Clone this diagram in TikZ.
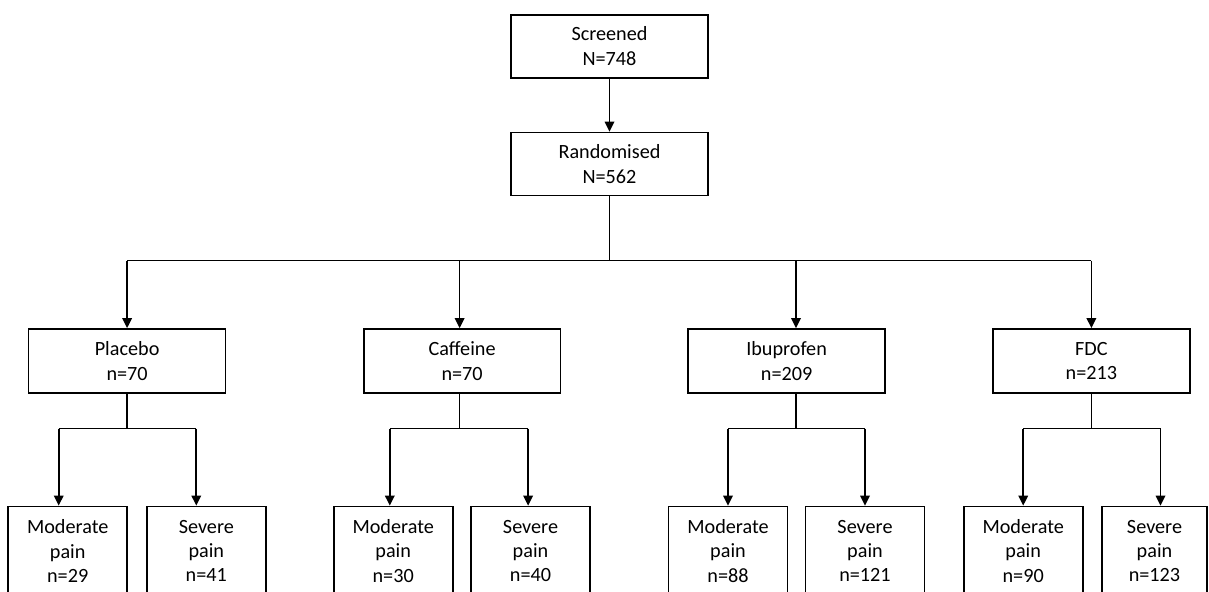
\documentclass[tikz,border=0pt]{standalone}
\usepackage{fontspec}
\setmainfont{Carlito}
\usepackage{tikz}
\usetikzlibrary{arrows.meta, calc}

\begin{document}
\begin{tikzpicture}[
    x=0.02cm, y=-0.02cm,
    >={Triangle[length=0.2cm, width=0.19cm]},
    topbox/.style={rectangle, draw=black, line width=1pt, fill=white,
                minimum width=3.94cm, minimum height=1.26cm, inner sep=0pt,
                font=\fontsize{11.5}{14.2}\selectfont, align=center, text=black},
    armbox/.style={topbox, minimum height=1.28cm},
    painbox/.style={topbox, minimum width=2.38cm, minimum height=1.78cm,
                font=\fontsize{11.5}{13.9}\selectfont},
    wire/.style={line width=1pt, black},
    flow/.style={wire, ->},
]
\clip (0,0) rectangle (1209,591);
\node[topbox] (scr)  at (609.5, 46.5) {Screened\\N=748};
\node[topbox] (rand) at (609.5, 164)  {Randomised\\N=562};
\node[armbox] (plac) at (127.1, 361)  {Placebo\\n=70};
\node[armbox] (cafe) at (462.1, 361)  {Caffeine\\n=70};
\node[armbox] (ibu)  at (786.6, 361)  {Ibuprofen\\n=209};
\node[armbox] (fdc)  at (1091.4, 361) {FDC\\n=213};
\node[painbox] (placM) at (67.7, 551)   {Moderate\\pain\\n=29};
\node[painbox] (placS) at (206.3, 551)  {Severe\\pain\\n=41};
\node[painbox] (cafeM) at (393.2, 551)  {Moderate\\pain\\n=30};
\node[painbox] (cafeS) at (530.5, 551)  {Severe\\pain\\n=40};
\node[painbox] (ibuM)  at (728, 551)    {Moderate\\pain\\n=88};
\node[painbox] (ibuS)  at (865, 551)    {Severe\\pain\\n=121};
\node[painbox] (fdcM)  at (1023.2, 551) {Moderate\\pain\\n=90};
\node[painbox, minimum width=2.1cm] (fdcS) at (1154.5, 551) {Severe\\pain\\n=123};
\draw[flow] (scr) -- (rand);
\coordinate (hub) at (609.5, 260.5);
\draw[wire] (rand) -- (hub);
\draw[wire] (plac.north |- hub) -- (fdc.north |- hub);
\foreach \b/\dx/\mx/\sx in {plac/0/-9/-10, cafe/-2.5/-3.4/-2.4, ibu/9.4/0/0, fdc/0/0/6} {
    \coordinate (\b top) at ($(\b.north)+(\dx,0)$);
    \coordinate (\b bot) at ($(\b.south)+(\dx,0)$);
    \coordinate (\b fork) at ($(\b bot)+(0,34.7)$);
    \coordinate (\b min) at ($(\b M.north)+(\mx,0)$);
    \coordinate (\b sin) at ($(\b S.north)+(\sx,0)$);
    \draw[flow] (\b top |- hub) -- (\b top);
    \draw[wire] (\b bot) -- (\b fork);
    \draw[wire] (\b min |- \b fork) -- (\b sin |- \b fork);
    \draw[flow] (\b min |- \b fork) -- (\b min);
    \draw[flow] (\b sin |- \b fork) -- (\b sin);
}
\end{tikzpicture}
\end{document}
